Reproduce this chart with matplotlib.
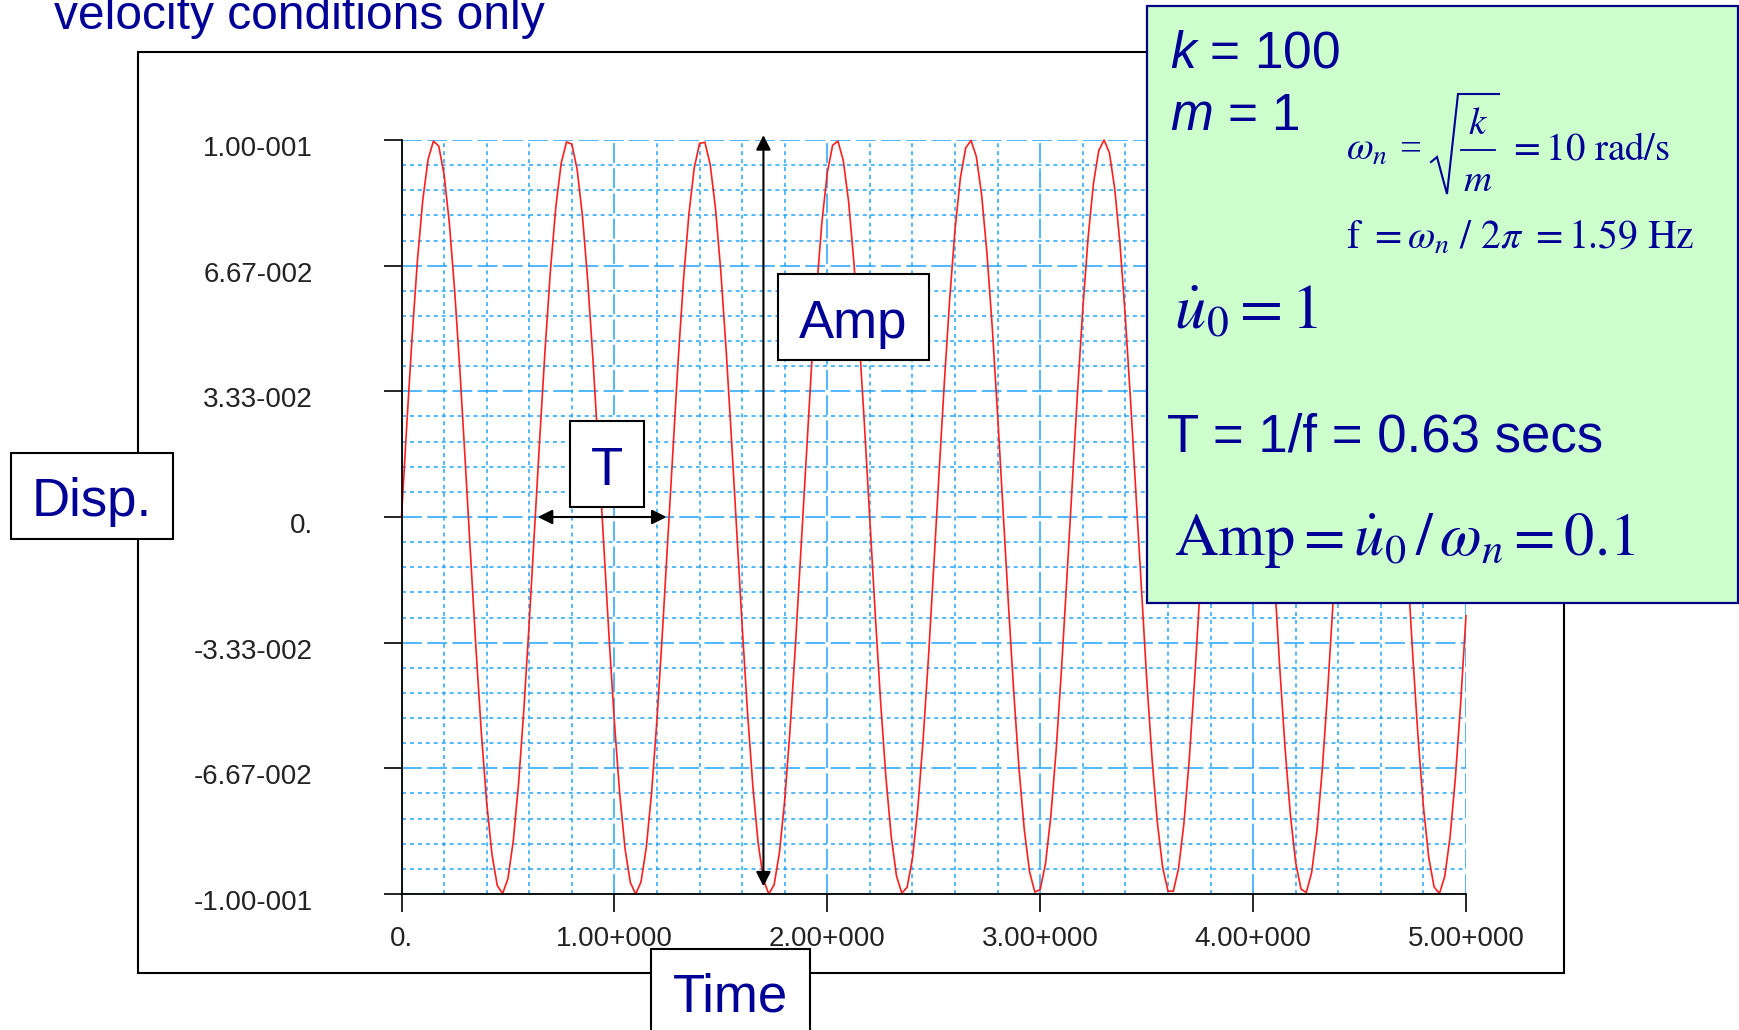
import numpy as np
import matplotlib.pyplot as plt
from matplotlib.patches import Rectangle
from matplotlib.lines import Line2D
from matplotlib.ticker import MultipleLocator
import matplotlib.transforms as mtransforms

plt.rcParams['font.family'] = ['Liberation Sans', 'DejaVu Sans']
plt.rcParams['mathtext.rm'] = 'Liberation Sans'
plt.rcParams['mathtext.it'] = 'Liberation Sans:italic'
plt.rcParams['mathtext.bf'] = 'Liberation Sans:bold'

# displacement every 0.025 s, t = 0 .. 5 s
dt = 0.025
disp = [
    0.0, 0.0247, 0.0479, 0.0682, 0.0841, 0.0949, 0.0997, 0.0984, 0.0909, 0.0778,
    0.0598, 0.0382, 0.0141, -0.0108, -0.0351, -0.0572, -0.0757, -0.0895, -0.0978, -0.0999,
    -0.0959, -0.0859, -0.0706, -0.0508, -0.0279, -0.0033, 0.0215, 0.0450, 0.0657, 0.0823,
    0.0938, 0.0995, 0.0989, 0.0922, 0.0798, 0.0625, 0.0412, 0.0174, -0.0075, -0.0320,
    -0.0544, -0.0735, -0.0880, -0.0970, -0.1000, -0.0968, -0.0876, -0.0729, -0.0537, -0.0311,
    -0.0066, 0.0183, 0.0420, 0.0632, 0.0804, 0.0926, 0.0991, 0.0994, 0.0935, 0.0818,
    0.0650, 0.0442, 0.0206, -0.0042, -0.0288, -0.0516, -0.0712, -0.0864, -0.0961, -0.1000,
    -0.0976, -0.0891, -0.0751, -0.0564, -0.0343, -0.0099, 0.0150, 0.0390, 0.0606, 0.0784,
    0.0913, 0.0986, 0.0997, 0.0946, 0.0837, 0.0675, 0.0472, 0.0239, -0.0009, -0.0256,
    -0.0487, -0.0688, -0.0846, -0.0952, -0.0998, -0.0982, -0.0906, -0.0773, -0.0591, -0.0374,
    -0.0132, 0.0117, 0.0359, 0.0579, 0.0763, 0.0899, 0.0979, 0.0999, 0.0956, 0.0854,
    0.0699, 0.0501, 0.0271, 0.0024, -0.0224, -0.0458, -0.0664, -0.0828, -0.0941, -0.0995,
    -0.0988, -0.0919, -0.0793, -0.0618, -0.0404, -0.0165, 0.0084, 0.0328, 0.0551, 0.0741,
    0.0884, 0.0972, 0.1000, 0.0966, 0.0871, 0.0723, 0.0529, 0.0303, 0.0058, -0.0191,
    -0.0428, -0.0638, -0.0809, -0.0929, -0.0992, -0.0993, -0.0932, -0.0813, -0.0644, -0.0434,
    -0.0198, 0.0051, 0.0296, 0.0524, 0.0718, 0.0868, 0.0964, 0.1000, 0.0974, 0.0887,
    0.0745, 0.0557, 0.0334, 0.0091, -0.0159, -0.0398, -0.0612, -0.0789, -0.0917, -0.0987,
    -0.0996, -0.0943, -0.0832, -0.0669, -0.0464, -0.0230, 0.0018, 0.0265, 0.0495, 0.0695,
    0.0851, 0.0955, 0.0999, 0.0981, 0.0902, 0.0767, 0.0584, 0.0365, 0.0124, -0.0126,
    -0.0367, -0.0586, -0.0768, -0.0903, -0.0981, -0.0999, -0.0954, -0.0850, -0.0693, -0.0493,
    -0.0262,
]
t = np.arange(len(disp)) * dt

y_max = 0.1
y_ticks = y_max * np.array([-3, -2, -1, 0, 1, 2, 3]) / 3
y_labels = ['-1.00-001', '-6.67-002', '-3.33-002', '0.', '3.33-002', '6.67-002', '1.00-001']
x_ticks = [0, 1, 2, 3, 4, 5]
x_labels = ['0.', '1.00+000', '2.00+000', '3.00+000', '4.00+000', '5.00+000']

# period and amplitude marker arrows
T_start, T_end = 0.64, 1.245
amp_t, amp_top, amp_bot = 1.70, 0.1013, -0.098

navy = '#000096'
grid_blue = '#22A4FF'

W, H = 1739, 1030
def fx(x):
    return x / W
def fy(y):
    return 1 - y / H

fig = plt.figure(figsize=(W / 100, H / 100), dpi=100)
ax = fig.add_axes([fx(401.5), fy(894), fx(1466) - fx(401.5), fy(140) - fy(894)])

ax.plot(t, disp, color='#FF1E1E', lw=1.2, zorder=2, clip_on=False)

ax.set_xlim(0, 5)
ax.set_ylim(-y_max, y_max)
ax.set_xticks(x_ticks)
ax.set_xticklabels(x_labels)
ax.set_yticks(y_ticks)
ax.set_yticklabels(y_labels)
ax.xaxis.set_minor_locator(MultipleLocator(0.2))
ax.yaxis.set_minor_locator(MultipleLocator(y_max / 15))

ax.grid(which='major', color=grid_blue, lw=1.1, linestyle=(0, (13, 3.5)))
ax.grid(which='minor', color=grid_blue, lw=1.1, linestyle=(0, (2.6, 2.6)))

for s in ['top', 'right']:
    ax.spines[s].set_visible(False)
for s in ['left', 'bottom']:
    ax.spines[s].set_linewidth(1.3)

ax.tick_params(which='major', direction='out', length=13, width=1.2, color='black',
               labelsize=20, labelcolor='#222222')
ax.tick_params(which='minor', length=0)
ax.tick_params(axis='y', pad=51)
ax.tick_params(axis='x', pad=10)
off = mtransforms.ScaledTranslation(0, -6 / 100, fig.dpi_scale_trans)
for lbl in ax.get_yticklabels():
    lbl.set_transform(lbl.get_transform() + off)

arrow = dict(arrowstyle='<|-|>', color='black', lw=1.5, mutation_scale=22, shrinkA=0, shrinkB=0)
ax.annotate('', xy=(amp_t, amp_top), xytext=(amp_t, amp_bot), arrowprops=arrow,
            annotation_clip=False)
ax.annotate('', xy=(T_start, 0), xytext=(T_end, 0), arrowprops=arrow,
            annotation_clip=False)

# outer chart frame
fig.add_artist(Rectangle((fx(137.5), fy(972.5)), fx(1564) - fx(137.5), fy(52) - fy(972.5),
                         transform=fig.transFigure, fill=False, edgecolor='black', lw=1.5, zorder=1))

def label_box(x0, y0, x1, y1, text, base):
    fig.add_artist(Rectangle((fx(x0), fy(y1)), fx(x1) - fx(x0), fy(y0) - fy(y1),
                             transform=fig.transFigure, facecolor='white',
                             edgecolor='black', lw=1.5, zorder=4))
    fig.text(fx((x0 + x1) / 2), fy(base), text, ha='center', va='baseline',
             fontsize=38, color=navy, zorder=5)

label_box(11, 453, 173, 539, 'Disp.', 516)
label_box(651, 949, 810, 1040, 'Time', 1012)
label_box(778, 274, 929, 360, 'Amp', 338)
label_box(570, 421, 644, 507, 'T', 485)

fig.text(fx(54), fy(29), 'velocity conditions only', fontsize=34.5, color=navy,
         va='baseline', ha='left')

# green parameter box
fig.add_artist(Rectangle((fx(1147), fy(603)), fx(1738) - fx(1147), fy(6) - fy(603),
                         transform=fig.transFigure, facecolor='#CCFFCC',
                         edgecolor='#000080', lw=1.6, zorder=6))
kw = dict(color=navy, va='baseline', ha='left', zorder=7)
fig.text(fx(1170), fy(67), r'$k$ = 100', fontsize=37, math_fontfamily='custom', **kw)
fig.text(fx(1170), fy(130), r'$m$ = 1', fontsize=37, math_fontfamily='custom', **kw)

# omega_n = sqrt(k/m) = 10 rad/s, radical drawn by hand
fig.text(fx(1346), fy(160), r'$\omega_n$', fontsize=28, math_fontfamily='stix', **kw)
fig.text(fx(1399), fy(160), '=', fontsize=28, family='Liberation Serif', **kw)
rad_x = [1431, 1437, 1447, 1458, 1499]
rad_y = [162, 157, 194, 94, 94]
fig.add_artist(Line2D([fx(v) for v in rad_x], [fy(v) for v in rad_y], transform=fig.transFigure,
                      color=navy, lw=1.5, zorder=7, solid_joinstyle='miter'))
fig.add_artist(Line2D([fx(1461), fx(1495)], [fy(149.5), fy(149.5)], transform=fig.transFigure,
                      color=navy, lw=1.3, zorder=7))
fig.text(fx(1478), fy(134), r'$k$', fontsize=28, math_fontfamily='stix',
         color=navy, va='baseline', ha='center', zorder=7)
fig.text(fx(1478), fy(191), r'$m$', fontsize=28, math_fontfamily='stix',
         color=navy, va='baseline', ha='center', zorder=7)
fig.text(fx(1508), fy(160), r'$= 10\ \mathrm{rad/s}$', fontsize=28, math_fontfamily='stix', **kw)

fig.text(fx(1346), fy(249), r'$\mathrm{f}\ = \omega_n\ /\ 2\pi\ = 1.59\ \mathrm{Hz}$',
         fontsize=28.5, math_fontfamily='stix', **kw)
fig.text(fx(1174), fy(328), r'$\dot{u}_0 = 1$', fontsize=45, math_fontfamily='stix', **kw)
fig.text(fx(1167), fy(451), 'T = 1/f = 0.63 secs', fontsize=38, **kw)
fig.text(fx(1174), fy(555), r'$\mathrm{Amp} = \dot{u}_0\,/\,\omega_n = 0.1$',
         fontsize=43.5, math_fontfamily='stix', **kw)

fig.savefig('out.png', dpi=100)
